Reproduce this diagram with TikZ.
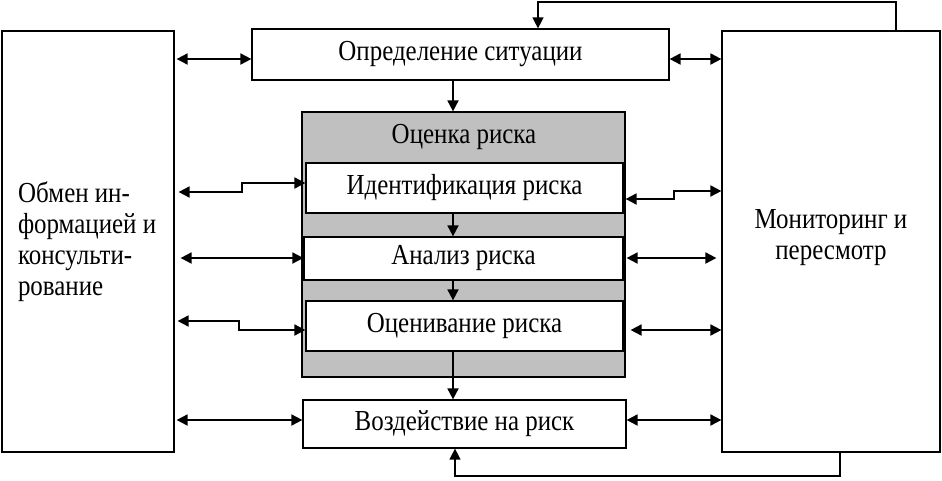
\documentclass[tikz,border=0pt]{standalone}
\usepackage{fontspec}
\setmainfont{Liberation Serif}[FakeStretch=0.86]
\usetikzlibrary{arrows.meta}
\definecolor{riskgray}{RGB}{192,192,192}

\begin{document}
\begin{tikzpicture}[x=1pt,y=-1pt,
	box/.style={draw, line width=1.2pt, fill=white, inner sep=0pt, font=\fontsize{29}{31}\selectfont},
	arr/.style={line width=1.8pt, -{Triangle[length=11pt,width=11pt]}},
	dbl/.style={line width=1.8pt, {Triangle[length=11pt,width=11pt]}-{Triangle[length=11pt,width=11pt]}},
	back/.style={line width=1.3pt, -{Triangle[length=11pt,width=11pt]}}]
	\useasboundingbox (0,0) rectangle (942,480);

	\node [box, minimum width=172pt, minimum height=421pt, text width=140pt, align=flush left] (info) at (88,241.5)
		{Обмен~ин-\\формацией~и\\консульти-\\рование};
	\node [box, minimum width=218pt, minimum height=421pt, align=center] (mon) at (831,241.5)
		{Мониторинг~и\\пересмотр\rule[-14pt]{0pt}{1pt}};
	\node [box, minimum width=417pt, minimum height=51pt] (situ) at (460.5,54.5) {Определение ситуации};
	\node [box, fill=riskgray, minimum width=323pt, minimum height=265pt] (assess) at (463.5,244.5) {};
	\node [box, draw=none, fill=none] (assesstitle) at (464,137) {Оценка риска};
	\node [box, minimum width=317pt, minimum height=50pt] (ident) at (464.5,188) {Идентификация риска};
	\node [box, minimum width=319pt, minimum height=43pt] (anal) at (463.5,258.5) {Анализ риска};
	\node [box, minimum width=317pt, minimum height=50pt] (eval) at (464.5,326) {Оценивание риска};
	\node [box, minimum width=323pt, minimum height=48pt] (treat) at (464.5,424) {Воздействие на риск};

	% main chain
	\draw [arr] (situ.south -| 453,0) -- (assess.north -| 453,0);
	\draw [arr] (ident.south -| 453,0) -- (anal.north -| 453,0);
	\draw [arr] (anal.south -| 453,0) -- (eval.north -| 453,0);
	\draw [arr] (eval.south -| 453,0) -- (treat.north -| 453,0);

	% exchange on the left
	\draw [dbl, shorten <=2pt] (info.east |- 0,59) -- (situ.west |- 0,59);
	\draw [dbl, shorten <=4pt] (info.east |- 0,192) -| (242,183) -- (ident.west |- 0,183);
	\draw [dbl, shorten <=6pt] (info.east |- 0,258) -- (anal.west |- 0,258);
	\draw [dbl, shorten <=3pt] (info.east |- 0,321) -| (239,330) -- (eval.west |- 0,330);
	\draw [dbl, shorten <=2pt] (info.east |- 0,420) -- (treat.west |- 0,420);

	% monitoring on the right
	\draw [dbl] (situ.east |- 0,59) -- (mon.west |- 0,59);
	\draw [dbl, shorten <=2pt] (ident.east |- 0,199) -| (674,191) -- (mon.west |- 0,191);
	\draw [dbl, shorten <=3pt, shorten >=5pt] (anal.east |- 0,258) -- (mon.west |- 0,258);
	\draw [dbl, shorten <=7pt] (eval.east |- 0,330) -- (mon.west |- 0,330);
	\draw [dbl] (treat.east |- 0,420) -- (mon.west |- 0,420);

	% feedback
	\draw [back] (mon.north -| 896,0) |- (538,2) -- (situ.north -| 538,0);
	\draw [back] (mon.south -| 840,0) |- (455,476) -- (treat.south -| 455,0);
\end{tikzpicture}
\end{document}
